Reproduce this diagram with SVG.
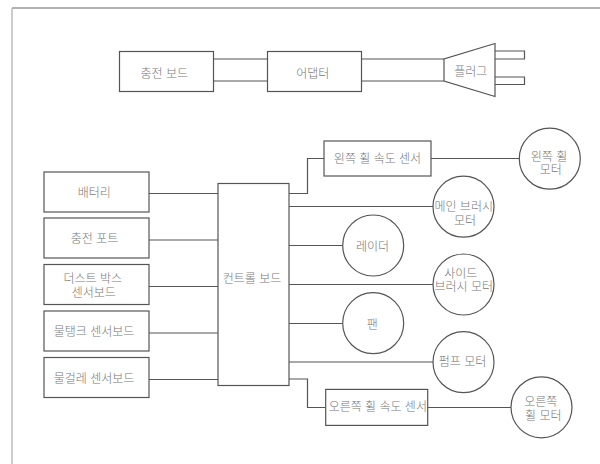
<svg xmlns="http://www.w3.org/2000/svg" width="600" height="464" viewBox="0 0 600 464">
<style>
.s{fill:#fff;stroke:#555;stroke-width:1.2}
.l{fill:none;stroke:#555;stroke-width:1.2}
text{font-family:"Liberation Sans","Noto Sans CJK KR",sans-serif;font-size:12px;font-weight:300;fill:#777;text-anchor:middle}
</style>
<rect width="600" height="464" fill="#fff"/>
<path d="M12 8.500V464" fill="none" stroke="#aaa" stroke-width="1.2"/>
<path d="M12 8H600" fill="none" stroke="#666" stroke-width="1.2"/>
<g id="connectors">
<path class="l" d="M214 59H268M214 81H268M362 59H444M362 81H444"/>
<path class="l" d="M149 193.500H218M149 240H218M149 286.500H218M149 333H218M149 379.500H218"/>
<path class="l" d="M289 193.500H307.500V158.500H324M289 206.500H433M289 245.500H343M289 284.500H433M289 323.500H343M289 362H433M289 379H307.500V407.500H325.500"/>
<path class="l" d="M431 158.500H519M427.500 407.500H511"/>
</g>
<g id="charge-board"><rect class="s" x="119.500" y="51.500" width="94" height="40"/><text x="164.300" y="77.500">충전 보드</text></g>
<g id="adapter"><rect class="s" x="267.500" y="51.500" width="94" height="40"/><text x="312.800" y="77.500">어댑터</text></g>
<g id="plug"><path class="s" d="M495 43.500V96.500L444 81V59ZM495 51H524.500V59H495ZM495 77H524.500V84.500H495Z"/><text x="470.800" y="75.500">플러그</text></g>
<g id="battery"><rect class="s" x="44" y="172" width="105" height="40"/><text x="94.300" y="197">배터리</text></g>
<g id="charge-port"><rect class="s" x="44" y="218" width="105" height="40"/><text x="94.500" y="243">충전 포트</text></g>
<g id="dust-box"><rect class="s" x="44" y="264.500" width="105" height="40"/><text x="92.800" y="283">더스트 박스</text><text x="93.800" y="296.500">센서보드</text></g>
<g id="water-tank"><rect class="s" x="44" y="311" width="105" height="40"/><text x="94" y="335.500">물탱크 센서보드</text></g>
<g id="mop"><rect class="s" x="44" y="357.500" width="105" height="40"/><text x="94" y="383">물걸레 센서보드</text></g>
<g id="control-board"><rect class="s" x="218" y="183.500" width="71" height="202"/><text x="252" y="283">컨트롤 보드</text></g>
<g id="left-speed"><rect class="s" x="324" y="141" width="107" height="35"/><text x="377.500" y="163">왼쪽 휠 속도 센서</text></g>
<g id="left-motor"><circle class="s" cx="549.800" cy="158.700" r="30.500"/><text x="549" y="160.500">왼쪽 휠</text><text x="550.700" y="173.500">모터</text></g>
<g id="main-brush"><circle class="s" cx="463.500" cy="206.700" r="30.500"/><text x="463.700" y="211">메인 브러시</text><text x="465" y="224.500">모터</text></g>
<g id="lidar"><circle class="s" cx="373.200" cy="245.500" r="30.500"/><text x="372.500" y="251">레이더</text></g>
<g id="side-brush"><circle class="s" cx="463.500" cy="284.500" r="30.500"/><text x="460.800" y="277.800">사이드</text><text x="463.700" y="291">브러시 모터</text></g>
<g id="fan"><circle class="s" cx="373.200" cy="323.200" r="30.500"/><text x="372.300" y="328.500">팬</text></g>
<g id="pump"><circle class="s" cx="463.500" cy="362.200" r="30.500"/><text x="462.500" y="366">펌프 모터</text></g>
<g id="right-speed"><rect class="s" x="325.700" y="389.400" width="102" height="36"/><text x="377.800" y="411">오른쪽 휠 속도 센서</text></g>
<g id="right-motor"><circle class="s" cx="541.500" cy="407.300" r="30.500"/><text x="540.800" y="406">오른쪽</text><text x="543.300" y="419.500">휠 모터</text></g>
</svg>
